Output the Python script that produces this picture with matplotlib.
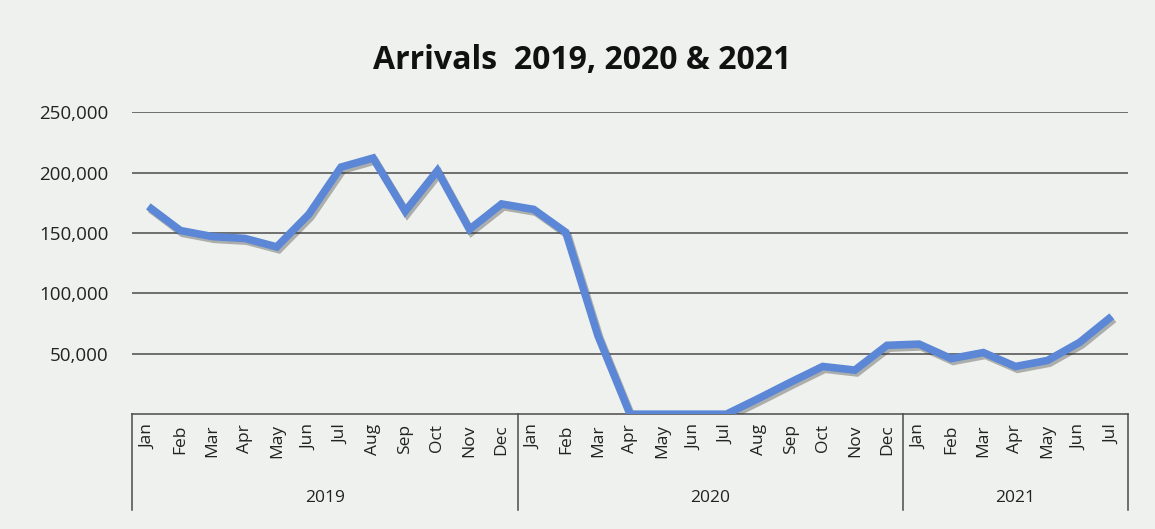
import matplotlib.pyplot as plt
import matplotlib.patheffects as pe
import numpy as np

months = ["Jan", "Feb", "Mar", "Apr", "May", "Jun", "Jul", "Aug", "Sep", "Oct", "Nov", "Dec",
          "Jan", "Feb", "Mar", "Apr", "May", "Jun", "Jul", "Aug", "Sep", "Oct", "Nov", "Dec",
          "Jan", "Feb", "Mar", "Apr", "May", "Jun", "Jul"]
years = ["2019", "2020", "2021"]
months_per_year = [12, 12, 7]
arrivals = [172000, 152000, 147000, 145500, 138500, 165500, 204500, 212000, 168000, 201500, 153000, 174000,
            169500, 150500, 65000, 0, 0, 0, 0, 13000, 26500, 39500, 36500, 57000,
            58000, 46000, 51000, 39500, 44500, 59500, 81000]
yticks = [50000, 100000, 150000, 200000, 250000]

plt.rcParams['font.family'] = ['Open Sans', 'DejaVu Sans']

fig = plt.figure(figsize=(11.55, 5.29), dpi=100)
fig.patch.set_facecolor('#eef1ee')
ax = fig.add_axes([0.1145, 0.217, 0.862, 0.571])
ax.set_facecolor('none')

x = np.arange(len(arrivals))
ax.plot(x, arrivals, color='#5b87d6', linewidth=5.5, solid_joinstyle='miter', solid_capstyle='butt',
        path_effects=[pe.SimpleLineShadow(offset=(1.5, -2), shadow_color='#333333', alpha=0.35),
                      pe.Normal()], zorder=3)

ax.set_xlim(-0.5, len(arrivals) - 0.5)
ax.set_ylim(0, 250000)
ax.set_yticks(yticks)
ax.set_yticklabels([f"{v:,}" for v in yticks], fontsize=13.5, color='#222222')
ax.yaxis.grid(True, color='#4a4a4a', linewidth=1.1)
ax.set_axisbelow(True)
ax.tick_params(axis='y', length=0, pad=17)
ax.tick_params(axis='x', length=0)
ax.set_xticks([])
for s in ['top', 'right', 'left']:
    ax.spines[s].set_visible(False)
ax.spines['bottom'].set_color('#4a4a4a')
ax.spines['bottom'].set_linewidth(1.1)

trans = ax.get_xaxis_transform()
# month labels
for i, m in enumerate(months):
    ax.text(i, -0.033, m, rotation=90, ha='center', va='top', fontsize=12.5,
            color='#222222', transform=trans)
# year group separators and labels
start = 0
bounds = [-0.5]
for yr, n in zip(years, months_per_year):
    ax.text(start + (n - 1) / 2, -0.278, yr, ha='center', va='center', fontsize=12.5,
            color='#222222', transform=trans)
    start += n
    bounds.append(start - 0.5)
for b in bounds:
    ax.plot([b, b], [0, -0.318], color='#4a4a4a', linewidth=1.1, transform=trans, clip_on=False)

fig.text(0.504, 0.885, "Arrivals  2019, 2020 & 2021", ha='center', va='center',
         fontsize=23, fontweight='bold', color='#111111')

fig.savefig('out.png', dpi=100, facecolor=fig.get_facecolor())
